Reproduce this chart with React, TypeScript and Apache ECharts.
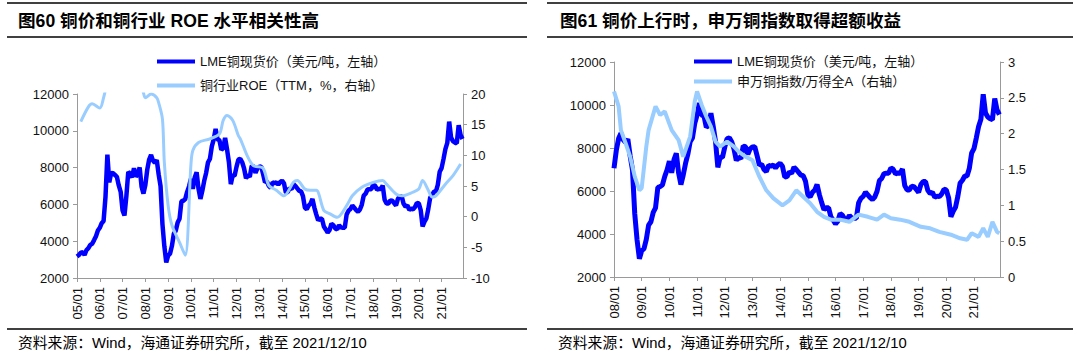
import React, { useEffect, useRef } from "react";
import * as echarts from "echarts";

// ---------------- data ----------------
const lmeName = "LME铜现货价（美元/吨，左轴）";
const roeName = "铜行业ROE（TTM，%，右轴）";
const ratioName = "申万铜指数/万得全A（右轴）";

// LME copper spot, USD/t, one value per month from 2005-01 to 2021-12
const lmeStartYear = 2005;
const lmeMonthly = [
  3170, 3250, 3380, 3400, 3250, 3520, 3620, 3800, 3860, 4060, 4270, 4580, // 2005
  4730, 4980, 5100, 6400, 8700, 7200, 7710, 7690, 7600, 7500, 7030, 6680, // 2006
  5670, 5400, 6450, 7770, 7660, 7470, 7970, 7510, 7650, 8010, 6970, 6590, // 2007
  7060, 7890, 8440, 8690, 8380, 8260, 8410, 7630, 6990, 4930, 3720, 2850, // 2008
  3220, 3320, 3750, 4410, 4570, 5010, 5220, 6170, 6200, 6290, 6680, 6980, // 2009
  7390, 6850, 7460, 7750, 6840, 6300, 6740, 7280, 7710, 8290, 8470, 9150, // 2010
  9530, 10100, 9530, 9490, 8960, 9060, 9620, 9000, 8300, 7100, 7580, 7560, // 2011
  8040, 8440, 8470, 8290, 7950, 7420, 7580, 7500, 8090, 8060, 7710, 7960, // 2012
  8050, 8060, 7650, 7200, 7250, 7000, 6900, 7190, 7160, 7200, 7070, 7210, // 2013
  7290, 7150, 6650, 6670, 6890, 6820, 7110, 7000, 6870, 6740, 6710, 6450, // 2014
  5830, 5730, 5940, 6040, 6300, 5830, 5460, 5130, 5220, 5220, 4800, 4640, // 2015
  4470, 4600, 4950, 4870, 4690, 4640, 4870, 4750, 4730, 4730, 5450, 5660, // 2016
  5750, 5940, 5820, 5690, 5600, 5720, 5990, 6480, 6580, 6810, 6830, 6830, // 2017
  7070, 7010, 6800, 6840, 6830, 7020, 6250, 6050, 6050, 6220, 6200, 6070, // 2018
  5940, 6300, 6440, 6440, 6030, 5880, 5940, 5710, 5760, 5740, 5860, 6080, // 2019
  6050, 5690, 4800, 5060, 5240, 5750, 6370, 6500, 6700, 6700, 7060, 7770, // 2020
  7970, 8460, 9000, 9340, 10500, 9630, 9440, 9360, 9320, 10300, 9770, 9550, // 2021
];

// Copper industry ROE (TTM, %)
const roeDates = [
  "2005-03", "2005-07", "2005-09", "2006-01", "2006-03", "2006-05", "2006-09", "2007-03",
  "2007-08", "2007-12", "2008-01", "2008-04", "2008-07", "2008-08", "2008-10", "2008-11",
  "2009-01", "2009-03", "2009-07", "2009-10", "2010-01", "2010-02", "2010-05", "2010-11",
  "2011-04", "2011-06", "2011-08", "2011-11", "2012-02", "2012-03", "2012-07", "2012-10",
  "2013-03", "2013-06", "2013-10", "2014-02", "2014-07", "2014-09", "2015-01", "2015-04",
  "2015-07", "2015-11", "2016-02", "2016-06", "2016-11", "2017-02", "2017-07", "2018-01",
  "2018-06", "2018-08", "2019-01", "2019-04", "2019-10", "2020-01", "2020-03", "2020-06",
  "2020-08", "2020-10", "2021-03", "2021-07", "2021-11",
];
const roeValues = [
  15.5, 17.9, 18.4, 17.7, 19.4, 22, 26, 28,
  25, 20.2, 19.4, 20.0, 19.4, 18.6, 15.9, 8.8,
  1.8, -1.4, -4.2, -6.3, 8.5, 10.8, 12.1, 12.7,
  13.5, 15.7, 16.5, 15.7, 13.2, 12.7, 9.7, 8.3,
  7.9, 5.1, 4.3, 3.4, 5.6, 5.9, 4.5, 4.3,
  4.3, 1.0, 0.5, -0.1, 1.8, 3.4, 4.8, 5.6,
  5.9, 5.3, 3.7, 3.4, 4.0, 4.5, 5.9, 4.3,
  3.2, 3.4, 5.3, 6.7, 8.6,
];

// SW copper index / Wind All A
const ratioDates = [
  "2008-01", "2008-03", "2008-04", "2008-06", "2008-08", "2008-10", "2008-12", "2009-01",
  "2009-03", "2009-04", "2009-07", "2009-09", "2009-11", "2010-02", "2010-05", "2010-07",
  "2010-10", "2010-12", "2011-01", "2011-03", "2011-05", "2011-07", "2011-09", "2011-11",
  "2012-02", "2012-05", "2012-07", "2012-10", "2013-01", "2013-04", "2013-07", "2013-10",
  "2014-02", "2014-05", "2014-08", "2014-11", "2015-02", "2015-05", "2015-08", "2015-11",
  "2016-03", "2016-07", "2016-11", "2017-03", "2017-07", "2017-10", "2018-01", "2018-05",
  "2018-09", "2019-02", "2019-06", "2019-10", "2020-03", "2020-07", "2020-10", "2020-12",
  "2021-03", "2021-05", "2021-07", "2021-09", "2021-11", "2021-12",
];
const ratioValues = [
  2.59, 2.38, 2.05, 1.87, 1.68, 1.40, 1.21, 1.24,
  1.82, 2.05, 2.38, 2.26, 2.31, 2.05, 1.91, 1.68,
  1.96, 2.45, 2.59, 2.40, 2.24, 2.10, 1.89, 1.82,
  1.89, 1.82, 1.75, 1.68, 1.63, 1.40, 1.21, 1.10,
  1.00, 1.07, 1.21, 1.12, 1.03, 0.91, 0.84, 0.80,
  0.80, 0.77, 0.87, 0.84, 0.80, 0.87, 0.82, 0.80,
  0.77, 0.70, 0.68, 0.63, 0.59, 0.54, 0.52, 0.61,
  0.56, 0.68, 0.56, 0.77, 0.63, 0.61,
];

const leftTickYears = [2005, 2006, 2007, 2008, 2009, 2010, 2011, 2012, 2013, 2014, 2015, 2016, 2017, 2018, 2019, 2020, 2021];
const rightTickYears = [2008, 2009, 2010, 2011, 2012, 2013, 2014, 2015, 2016, 2017, 2018, 2019, 2020, 2021];
const endDate = "2021-12-10";

const title1 = "图60 铜价和铜行业 ROE 水平相关性高";
const title2 = "图61 铜价上行时，申万铜指数取得超额收益";
const sourceText = "资料来源：Wind，海通证券研究所，截至 2021/12/10";

// ---------------- helpers ----------------
const monthToYear = (s: string) => {
  const [y, m] = s.split("-").map(Number);
  return y + (m - 1) / 12;
};
const dayToYear = (s: string) => {
  const [y, m, d] = s.split("-").map(Number);
  const start = Date.UTC(y, 0, 1);
  const end = Date.UTC(y + 1, 0, 1);
  return y + (Date.UTC(y, m - 1, d) - start) / (end - start);
};

const FONT = "'Liberation Sans', Arial, 'Noto Sans CJK SC', sans-serif";
const BLUE = "#0000FF";
const LIGHT = "#99CCFF";
const AXIS = "#9a9a9a";

export default function App() {
  const ref = useRef<HTMLDivElement>(null);

  useEffect(() => {
    document.body.style.margin = "0";
    const chart = echarts.init(ref.current!, null, { renderer: "svg" });

    const lme = lmeMonthly.map((v, i) => [lmeStartYear + i / 12, v]);
    const lmeRight = lme.filter((p) => p[0] >= rightTickYears[0]);
    const roe = roeDates.map((d, i) => [monthToYear(d), roeValues[i]]);
    const ratio = ratioDates.map((d, i) => [monthToYear(d), ratioValues[i]]);
    const xMax = dayToYear(endDate);

    const yearLabel = (v: number) =>
      Math.abs(v - Math.round(v)) < 1e-6 ? String(Math.round(v) % 100).padStart(2, "0") + "/01" : "";

    const xAxisBase = (gridIndex: number, years: number[]) => ({
      type: "value",
      gridIndex,
      min: years[0],
      max: xMax,
      interval: 1,
      splitLine: { show: false },
      axisLine: { show: true, onZero: false, lineStyle: { color: AXIS, width: 1 } },
      axisTick: { show: true, length: 4, lineStyle: { color: AXIS }, customValues: years },
      axisLabel: {
        rotate: 90,
        margin: 9,
        fontSize: 13,
        color: "#111",
        fontFamily: FONT,
        customValues: years,
        formatter: yearLabel,
      },
    });

    const yAxisBase = (gridIndex: number, position: string, min: number, max: number, interval: number) => ({
      type: "value",
      gridIndex,
      position,
      min,
      max,
      interval,
      splitLine: { show: false },
      axisLine: { show: true, onZero: false, lineStyle: { color: AXIS, width: 1 } },
      axisTick: { show: true, length: 4, lineStyle: { color: AXIS } },
      axisLabel: {
        fontSize: 13,
        color: "#111",
        fontFamily: FONT,
        margin: 8,
        formatter: (v: number) => String(v),
      },
    });

    const legendBase = (name: string, left: number, top: number) => ({
      data: [name],
      left,
      top,
      icon: "rect",
      itemWidth: 38,
      itemHeight: 4,
      padding: 0,
      selectedMode: false,
      textStyle: { fontSize: 13, color: "#111", fontFamily: FONT },
    });

    const rule = (x1: number, x2: number, y: number) => ({
      type: "line",
      shape: { x1, y1: y, x2, y2: y },
      style: { stroke: "#000", lineWidth: 1.5 },
    });

    chart.setOption({
      animation: false,
      grid: [
        { left: 77, top: 94, width: 386, height: 184 },
        { left: 614, top: 62, width: 386, height: 215 },
      ],
      xAxis: [xAxisBase(0, leftTickYears), xAxisBase(1, rightTickYears)],
      yAxis: [
        yAxisBase(0, "left", 2000, 12000, 2000),
        yAxisBase(0, "right", -10, 20, 5),
        yAxisBase(1, "left", 2000, 12000, 2000),
        yAxisBase(1, "right", 0, 3, 0.5),
      ],
      legend: [
        legendBase(lmeName, 157, 55),
        legendBase(roeName, 157, 79),
        legendBase(lmeName, 694, 55),
        legendBase(ratioName, 694, 75),
      ],
      series: [
        {
          name: lmeName,
          type: "line",
          xAxisIndex: 0,
          yAxisIndex: 0,
          data: lme,
          showSymbol: false,
          lineStyle: { color: BLUE, width: 4.5 },
          itemStyle: { color: BLUE },
        },
        {
          name: roeName,
          type: "line",
          xAxisIndex: 0,
          yAxisIndex: 1,
          data: roe,
          smooth: 0.3,
          showSymbol: false,
          clip: true,
          lineStyle: { color: LIGHT, width: 3 },
          itemStyle: { color: LIGHT },
        },
        {
          name: lmeName,
          type: "line",
          xAxisIndex: 1,
          yAxisIndex: 2,
          data: lmeRight,
          showSymbol: false,
          lineStyle: { color: BLUE, width: 5 },
          itemStyle: { color: BLUE },
        },
        {
          name: ratioName,
          type: "line",
          xAxisIndex: 1,
          yAxisIndex: 3,
          data: ratio,
          showSymbol: false,
          lineStyle: { color: LIGHT, width: 4 },
          itemStyle: { color: LIGHT },
        },
      ],
      graphic: [
        rule(7, 527, 3),
        rule(7, 527, 37),
        rule(7, 527, 329),
        rule(547, 1073, 3),
        rule(547, 1073, 37),
        rule(547, 1073, 329),
        {
          type: "text",
          style: { x: 18, y: 21, text: title1, font: `bold 17.6px ${FONT}`, fill: "#000", verticalAlign: "middle" },
        },
        {
          type: "text",
          style: { x: 560, y: 21, text: title2, font: `bold 17.6px ${FONT}`, fill: "#000", verticalAlign: "middle" },
        },
        {
          type: "text",
          style: { x: 18, y: 343, text: sourceText, font: `14.8px ${FONT}`, fill: "#000", verticalAlign: "middle" },
        },
        {
          type: "text",
          style: { x: 558, y: 343, text: sourceText, font: `14.8px ${FONT}`, fill: "#000", verticalAlign: "middle" },
        },
      ],
    });

    return () => chart.dispose();
  }, []);

  return (
    <div
      ref={ref}
      style={{ position: "absolute", left: 0, top: 0, width: 1080, height: 356, background: "#fff" }}
    />
  );
}
